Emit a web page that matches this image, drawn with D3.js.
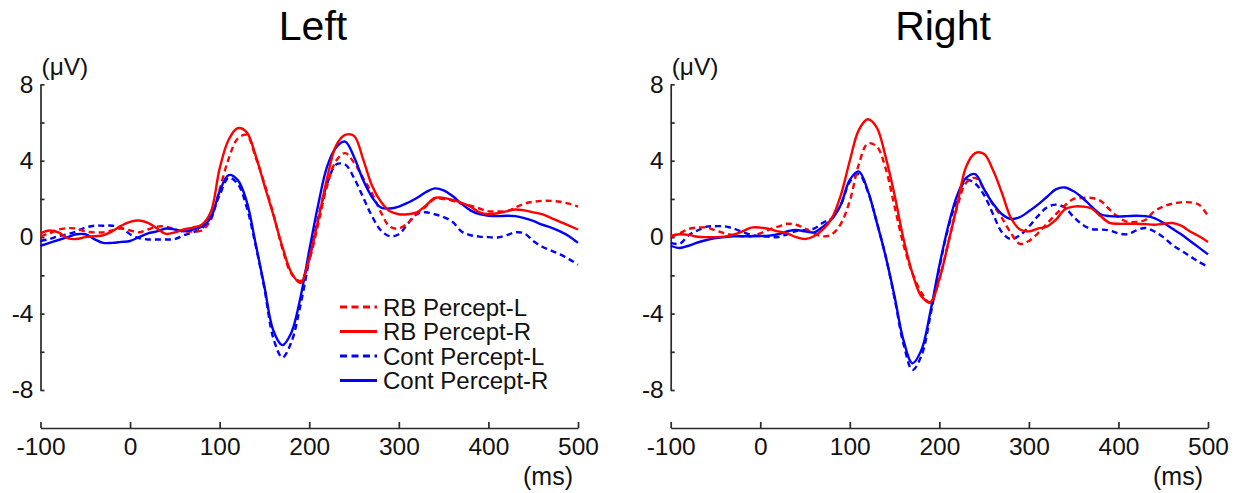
<!DOCTYPE html>
<html>
<head>
<meta charset="utf-8">
<script src="https://cdn.jsdelivr.net/npm/d3@7"></script>
<style>
  body { margin: 0; background: #fff; }
  svg { display: block; font-family: "Liberation Sans", Arial, sans-serif; }
</style>
</head>
<body>
<svg id="chart"></svg>
<script>
// time axis (ms), 10 ms steps
const times = d3.range(-100, 501, 10);

// Left hemisphere
const leftRbL = [0.05, 0.2, 0.4, 0.47, 0.45, 0.3, 0.25, 0.25, 0.35, 0.45, 0.35, 0.25, 0.4, 0.55, 0.55, 0.4, 0.3, 0.3, 0.35, 0.9,
  2.5, 4.1, 5.15, 5.35, 4.2, 2.8, 1.2, -0.6, -1.9, -2.3, -1.2, 0.7, 2.7, 4.0, 4.4, 3.9, 3.1, 2.3, 1.3, 0.55,
  0.45, 0.75, 1.2, 1.6, 2.0, 2.0, 1.9, 1.75, 1.65, 1.5, 1.35, 1.35, 1.35, 1.55, 1.75, 1.85, 1.9, 1.9, 1.85, 1.75, 1.6];
const leftRbR = [0.2, 0.35, 0.25, -0.05, -0.1, 0.0, 0.05, 0.1, 0.3, 0.6, 0.8, 0.87, 0.75, 0.45, 0.17, 0.25, 0.4, 0.5, 0.65, 1.3,
  3.6, 5.1, 5.7, 5.5, 4.3, 2.7, 1.15, -0.5, -1.85, -2.4, -1.1, 0.9, 3.1, 4.8, 5.35, 5.3, 4.1, 2.7, 1.85, 1.35,
  1.2, 1.2, 1.3, 1.65, 2.05, 2.05, 1.95, 1.8, 1.6, 1.3, 1.2, 1.25, 1.35, 1.45, 1.4, 1.3, 1.2, 1.0, 0.8, 0.6, 0.4];
const leftContL = [-0.2, -0.1, 0.05, 0.15, 0.3, 0.5, 0.6, 0.6, 0.6, 0.5, 0.15, -0.05, -0.12, -0.12, -0.12, -0.1, 0.1, 0.25, 0.45, 1.1,
  2.2, 3.1, 2.8, 1.6, -0.4, -2.7, -5.3, -6.3, -5.5, -3.6, -1.2, 1.0, 2.8, 3.8, 3.8, 3.1, 2.1, 1.1, 0.35, 0.05,
  0.15, 0.7, 1.2, 1.3, 1.2, 1.05, 0.8, 0.3, 0.1, 0.03, 0.0, -0.02, 0.1, 0.25, 0.2, -0.2, -0.5, -0.7, -0.9, -1.15, -1.45];
const leftContR = [-0.45, -0.3, -0.15, 0.0, 0.15, 0.15, -0.1, -0.3, -0.3, -0.25, -0.2, 0.0, 0.2, 0.3, 0.45, 0.4, 0.3, 0.4, 0.55, 1.0,
  2.4, 3.25, 3.0, 1.9, -0.3, -2.6, -4.9, -5.65, -5.0, -3.2, -0.7, 1.7, 3.7, 4.7, 5.0, 4.2, 3.0, 2.1, 1.55, 1.5,
  1.6, 1.8, 2.05, 2.35, 2.55, 2.45, 2.15, 1.75, 1.4, 1.2, 1.12, 1.1, 1.12, 1.1, 1.0, 0.85, 0.65, 0.5, 0.3, 0.05, -0.3];

// Right hemisphere
const rightRbL = [0.04, 0.2, 0.43, 0.5, 0.5, 0.35, 0.2, 0.1, 0.05, 0.05, 0.2, 0.4, 0.55, 0.7, 0.65, 0.45, 0.2, 0.04, 0.15, 0.7,
  1.9, 3.8, 4.9, 4.75, 3.6, 1.6, -0.4, -1.9, -2.9, -3.45, -2.2, -0.3, 1.6, 2.85, 3.1, 2.5, 1.7, 1.0, 0.2, -0.35,
  -0.2, 0.2, 0.7, 1.2, 1.65, 2.0, 2.05, 2.05, 1.9, 1.45, 1.05, 0.8, 0.8, 0.9, 1.35, 1.6, 1.75, 1.82, 1.82, 1.7, 1.1];
const rightRbR = [0.05, 0.15, 0.12, 0.02, 0.0, 0.0, 0.03, 0.13, 0.3, 0.5, 0.5, 0.43, 0.3, 0.2, 0.0, -0.1, 0.05, 0.4, 1.0, 2.2,
  4.0, 5.6, 6.17, 5.75, 4.2, 2.2, -0.1, -1.9, -3.1, -3.4, -2.2, -0.3, 1.7, 3.7, 4.4, 4.35, 3.5, 2.3, 1.0, 0.4,
  0.3, 0.45, 0.55, 0.9, 1.45, 1.6, 1.6, 1.5, 1.1, 0.75, 0.7, 0.7, 0.7, 0.68, 0.65, 0.7, 0.74, 0.6, 0.3, 0.05, -0.25];
const rightContL = [-0.3, -0.35, 0.1, 0.35, 0.55, 0.57, 0.57, 0.45, 0.28, 0.12, 0.05, 0.02, 0.0, 0.15, 0.32, 0.38, 0.45, 0.75, 1.0, 1.7,
  2.9, 3.3, 2.4, 0.8, -1.0, -3.2, -5.6, -6.95, -6.2, -4.1, -1.6, 0.5, 2.0, 3.0, 2.8, 2.2, 1.2, 0.25, -0.1, 0.1,
  0.55, 1.1, 1.55, 1.7, 1.55, 1.05, 0.65, 0.42, 0.4, 0.35, 0.2, 0.15, 0.35, 0.48, 0.3, 0.0, -0.4, -0.7, -1.0, -1.3, -1.55];
const rightContR = [-0.45, -0.57, -0.45, -0.28, -0.15, -0.05, 0.0, 0.04, 0.05, 0.05, 0.06, 0.08, 0.15, 0.3, 0.38, 0.3, 0.25, 0.55, 0.95, 1.7,
  3.0, 3.44, 2.45, 0.8, -1.0, -3.1, -5.4, -6.6, -5.9, -3.9, -1.5, 0.6, 2.2, 3.1, 3.3, 2.5, 1.75, 1.2, 0.95, 1.05,
  1.35, 1.7, 2.1, 2.5, 2.6, 2.4, 2.05, 1.6, 1.2, 1.1, 1.08, 1.1, 1.12, 1.1, 1.0, 0.75, 0.45, 0.15, -0.2, -0.55, -0.9];

const seriesNames = ["RB Percept-L", "RB Percept-R", "Cont Percept-L", "Cont Percept-R"];
const seriesColors = ["#ff0000", "#ff0000", "#0000ff", "#0000ff"];
const seriesDashed = [true, false, true, false];

const xTicks = [-100, 0, 100, 200, 300, 400, 500];
const yTicks = [-8, -6, -4, -2, 0, 2, 4, 6, 8];
const yLabelled = [-8, -4, 0, 4, 8];

const width = 1242;
const height = 493;

const svg = d3.select("#chart").attr("width", width).attr("height", height);
svg.append("rect").attr("width", width).attr("height", height).attr("fill", "#fff");

const y = d3.scaleLinear().domain([-8, 8]).range([390, 84.3]);
const xAxisY = 428;

const panels = [
  { title: "Left", titleX: 313, range: [40.5, 578], data: [leftRbL, leftRbR, leftContL, leftContR], legend: true },
  { title: "Right", titleX: 943, range: [670.7, 1208], data: [rightRbL, rightRbR, rightContL, rightContR], legend: false }
];

// draw order: dashed first, solid on top
const drawOrder = [2, 0, 3, 1];

panels.forEach((p) => {
  const x = d3.scaleLinear().domain([-100, 500]).range(p.range);
  const g = svg.append("g");

  // title
  g.append("text")
    .attr("x", p.titleX)
    .attr("y", 40)
    .attr("text-anchor", "middle")
    .attr("font-size", 41)
    .attr("fill", "#000")
    .text(p.title);

  // y axis
  const yAxis = g.append("g")
    .attr("transform", `translate(${p.range[0]},0)`)
    .call(d3.axisLeft(y)
      .tickValues(yTicks)
      .tickSize(-4)
      .tickSizeOuter(0)
      .tickPadding(7)
      .tickFormat((d) => (yLabelled.includes(d) ? String(d) : "")));

  // x axis
  const xAxis = g.append("g")
    .attr("transform", `translate(0,${xAxisY})`)
    .call(d3.axisBottom(x)
      .tickValues(xTicks)
      .tickSize(-6)
      .tickSizeOuter(0)
      .tickPadding(10)
      .tickFormat((d) => String(d)));

  [yAxis, xAxis].forEach((a) => {
    a.selectAll("path, line").attr("stroke", "#2a2a2a").attr("stroke-width", 1.7);
    a.selectAll("text").attr("font-size", 24.5).attr("fill", "#111")
      .style("font-family", "'Liberation Sans', Arial, sans-serif");
  });

  // unit labels
  g.append("text")
    .attr("x", p.range[0] + 1)
    .attr("y", 75)
    .attr("font-size", 24.5)
    .attr("fill", "#111")
    .text("(μV)");
  g.append("text")
    .attr("x", p.range[1] - 5)
    .attr("y", 485)
    .attr("text-anchor", "end")
    .attr("font-size", 25)
    .attr("fill", "#111")
    .text("(ms)");

  const line = d3.line()
    .x((d, i) => x(times[i]))
    .y((d) => y(d))
    .curve(d3.curveCatmullRom.alpha(0.5));

  drawOrder.forEach((k) => {
    g.append("path")
      .datum(p.data[k])
      .attr("d", line)
      .attr("fill", "none")
      .attr("stroke", seriesColors[k])
      .attr("stroke-width", 2.4)
      .attr("stroke-dasharray", seriesDashed[k] ? "6,4" : null);
  });

  if (p.legend) {
    const lg = g.append("g").attr("transform", "translate(340,307)");
    const rows = lg.selectAll("g")
      .data(seriesNames)
      .join("g")
      .attr("transform", (d, i) => `translate(0,${i * 24.5})`);
    rows.append("line")
      .attr("x1", 0)
      .attr("x2", 37)
      .attr("stroke", (d, i) => seriesColors[i])
      .attr("stroke-width", 3)
      .attr("stroke-dasharray", (d, i) => (seriesDashed[i] ? "7,4.5" : null));
    rows.append("text")
      .attr("x", 43)
      .attr("y", 8.5)
      .attr("font-size", 24)
      .attr("fill", "#111")
      .text((d) => d);
  }
});
</script>
</body>
</html>
